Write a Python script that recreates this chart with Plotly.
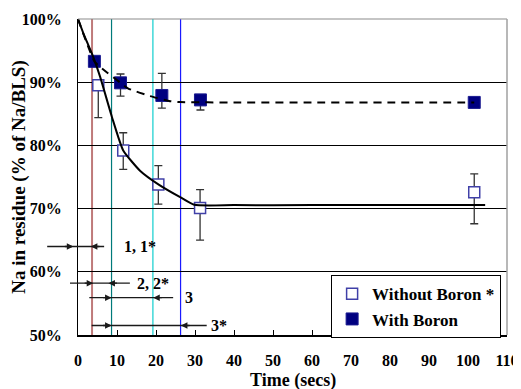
import plotly.graph_objects as go

# ---- data ----
t_without = [5.2, 11.6, 20.6, 31.3, 101.6]
na_without = [89.5, 79.2, 73.8, 70.1, 72.6]
err_without_plus = [0.5, 2.8, 3.0, 2.9, 2.9]
err_without_minus = [5.1, 3.0, 3.1, 5.1, 5.0]

t_with = [4.2, 10.9, 21.5, 31.4, 101.6]
na_with = [93.3, 89.9, 87.9, 87.2, 86.8]
err_with_plus = [0.0, 1.4, 3.5, 0.5, 0.0]
err_with_minus = [0.0, 2.1, 2.0, 1.6, 0.0]

# fitted curves
fit_without_t = [0, 1.4, 3.9, 5.7, 8.7, 11.6, 15.9, 20.7, 26.2, 29.8, 40, 60, 80, 104.4]
fit_without_y = [100, 97.7, 94.0, 90.8, 84.5, 79.2, 76.0, 73.8, 71.8, 70.6, 70.55, 70.55, 70.55, 70.55]
fit_with_t = [0, 4.2, 5.7, 10.9, 12.9, 18.5, 23.6, 26.2, 40, 60, 80, 101.6]
fit_with_y = [100, 93.3, 92.4, 89.9, 89.0, 87.8, 87.0, 86.85, 86.8, 86.8, 86.8, 86.8]

# interval marker lines (time, colour)
interval_t = [3.6, 8.6, 19.2, 26.3]
interval_colors = ["#bf7a7a", "#007a7a", "#40d8d8", "#1a1aff"]
interval_widths = [2, 1.2, 1.5, 1.2]

# dimension arrows: (label, level %, line start, line end, right-pointing tip, left-pointing tip, label x)
dims = [
    ("1, 1*", 64.0, -7.9, 6.7, -1.2, 3.3, 11.2),
    ("2, 2*", 58.2, -2.05, 13.3, 3.9, 7.8, 14.6),
    ("3", 55.9, 2.9, 24.4, 8.6, 19.3, 26.8),
    ("3*", 51.5, 3.5, 33.0, 8.6, 26.4, 33.6),
]

x_ticks = list(range(0, 111, 10))
y_ticks = list(range(50, 101, 10))
y_tick_text = [f"{v}%" for v in y_ticks]
XMAX, YMIN, YMAX = 110, 50, 100

FONT = "Liberation Serif, Times New Roman, Times, serif"

def px(t):
    return t / XMAX

def py(v):
    return (v - YMIN) / (YMAX - YMIN)

fig = go.Figure()

fig.add_trace(go.Scatter(
    x=t_without, y=na_without, mode="markers", name="<b>Without Boron *</b>",
    marker=dict(symbol="square", size=11, color="white",
                line=dict(color="#4040a8", width=1.5)),
    error_y=dict(type="data", symmetric=False, array=err_without_plus,
                 arrayminus=err_without_minus, color="#333333", thickness=1.3, width=4),
))
fig.add_trace(go.Scatter(
    x=t_with, y=na_with, mode="markers", name="<b>With Boron</b>",
    marker=dict(symbol="square", size=12, color="#000080",
                line=dict(color="#1a1a90", width=1)),
    error_y=dict(type="data", symmetric=False, array=err_with_plus,
                 arrayminus=err_with_minus, color="#333333", thickness=1.3, width=4),
))
fig.add_trace(go.Scatter(
    x=fit_without_t, y=fit_without_y, mode="lines", showlegend=False,
    line=dict(color="black", width=2, shape="spline", smoothing=0.5),
    hoverinfo="skip",
))
fig.add_trace(go.Scatter(
    x=fit_with_t, y=fit_with_y, mode="lines", showlegend=False,
    line=dict(color="black", width=2, dash="8px,6px", shape="spline", smoothing=0.5),
    hoverinfo="skip",
))

shapes = []
for t, c, w in zip(interval_t, interval_colors, interval_widths):
    shapes.append(dict(type="line", xref="x", yref="paper", x0=t, x1=t, y0=0, y1=1,
                       line=dict(color=c, width=w), layer="between"))
# top & right frame in grey
shapes.append(dict(type="line", xref="paper", yref="paper", x0=0, x1=1, y0=1, y1=1,
                   line=dict(color="#8c8c8c", width=1.2)))
shapes.append(dict(type="line", xref="paper", yref="paper", x0=1, x1=1, y0=0, y1=1,
                   line=dict(color="#a0a0a0", width=1.5)))

annotations = []
for label, lvl, xs, xe, tip_r, tip_l, lx in dims:
    shapes.append(dict(type="line", xref="paper", yref="paper",
                       x0=px(xs), x1=px(xe), y0=py(lvl), y1=py(lvl),
                       line=dict(color="#1a1a1a", width=1.3)))
    annotations.append(dict(xref="paper", yref="paper", x=px(tip_r), y=py(lvl),
                            ax=-10, ay=0, text="", showarrow=True, arrowhead=2,
                            arrowsize=1, arrowwidth=1.3, arrowcolor="#1a1a1a", standoff=0))
    annotations.append(dict(xref="paper", yref="paper", x=px(tip_l), y=py(lvl),
                            ax=10, ay=0, text="", showarrow=True, arrowhead=2,
                            arrowsize=1, arrowwidth=1.3, arrowcolor="#1a1a1a", standoff=0))
    annotations.append(dict(xref="paper", yref="paper", x=px(lx), y=py(lvl),
                            text=f"<b>{label}</b>", showarrow=False, xanchor="left", yanchor="middle",
                            font=dict(family=FONT, size=16, color="black")))

# x-axis title placed just below the tick labels
annotations.append(dict(xref="paper", yref="paper", x=0.5, y=-0.145, xanchor="center",
                        yanchor="middle", showarrow=False, text="<b>Time (secs)</b>",
                        font=dict(family=FONT, size=18, color="black")))

# page body adds an 8px offset, so the figure is 8px smaller than the window
fig.update_layout(
    width=513, height=381,
    margin=dict(l=70, r=14, t=11, b=54),
    paper_bgcolor="white", plot_bgcolor="white",
    font=dict(family=FONT, color="black", size=16),
    shapes=shapes, annotations=annotations,
    showlegend=True,
    legend=dict(x=0.59, y=0.189, xanchor="left", yanchor="top",
                bgcolor="white", bordercolor="black", borderwidth=1,
                font=dict(family=FONT, size=17, color="black"),
                tracegroupgap=0, itemwidth=30),
    xaxis=dict(range=[0, XMAX], tickvals=x_ticks, ticktext=[f"<b>{v}</b>" for v in x_ticks],
               ticks="inside", ticklen=5,
               tickcolor="black", tickwidth=1, showgrid=False, zeroline=False,
               showline=True, linecolor="black", linewidth=1.5,
               tickfont=dict(family=FONT, size=16), automargin=False,
               ticklabelstandoff=10, ticklabeloverflow="allow"),
    yaxis=dict(range=[YMIN, YMAX], tickvals=y_ticks, ticktext=[f"<b>{s}</b>" for s in y_tick_text],
               ticks="", automargin=False,
               showgrid=True, gridcolor="black", gridwidth=1, zeroline=False,
               showline=True, linecolor="black", linewidth=1.2,
               tickfont=dict(family=FONT, size=16),
               ticklabelstandoff=12,
               title=dict(text="<b>Na in residue (% of Na/BLS)</b>",
                          font=dict(family=FONT, size=19), standoff=2)),
)

fig.write_html("out.html")
